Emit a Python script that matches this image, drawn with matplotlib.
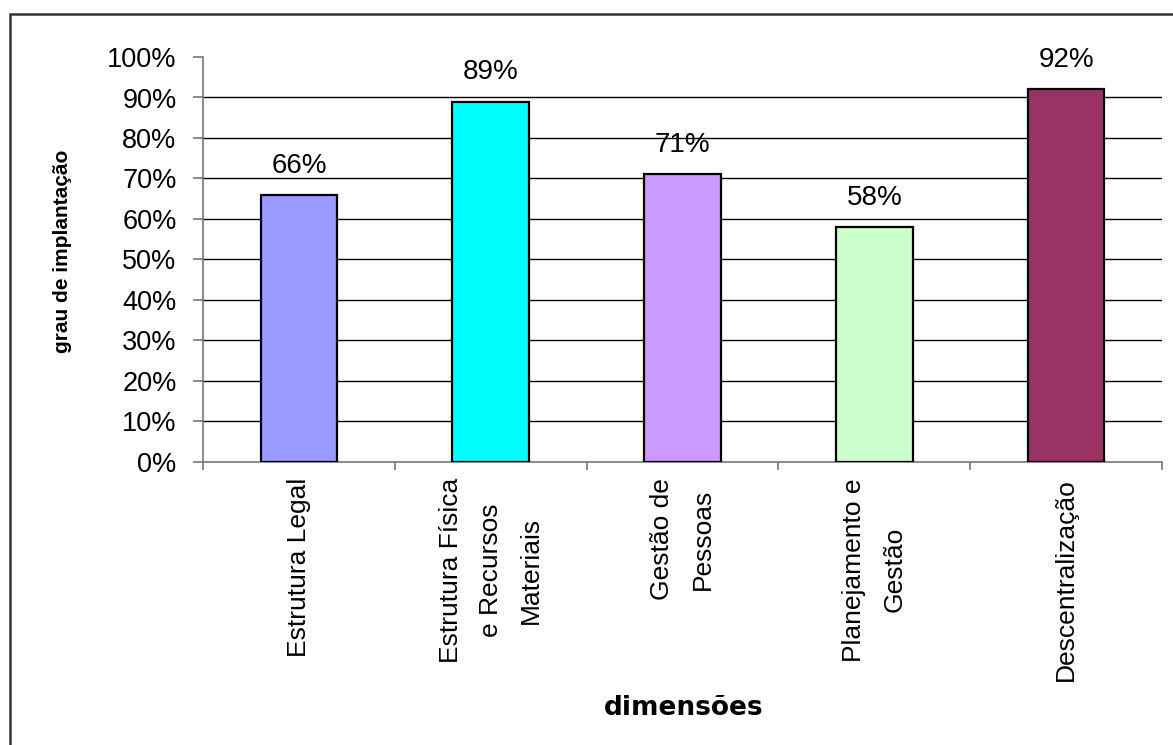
import matplotlib
matplotlib.use("Agg")
import matplotlib.pyplot as plt
from matplotlib.patches import Rectangle
from matplotlib import font_manager

categories = ["Estrutura Legal", "Estrutura Física\ne Recursos\nMateriais",
              "Gestão de\nPessoas", "Planejamento e\nGestão", "Descentralização"]
values = [66, 89, 71, 58, 92]
colors = ["#9999FF", "#00FFFF", "#CC99FF", "#CCFFCC", "#993366"]
yticks = [0, 10, 20, 30, 40, 50, 60, 70, 80, 90, 100]

names = {f.name for f in font_manager.fontManager.ttflist}
narrow = "Liberation Sans Narrow" if "Liberation Sans Narrow" in names else "Liberation Sans"

W, H = 1173, 745
fig = plt.figure(figsize=(W / 100, H / 100), dpi=100)
ax = fig.add_axes([203 / W, 1 - 462 / H, (1162 - 203) / W, (462 - 57) / H])

x = list(range(len(values)))
ax.bar(x, values, width=0.40, color=colors, edgecolor="black", linewidth=1.6, zorder=3)
ax.set_xlim(-0.5, len(values) - 0.5)
ax.set_ylim(0, 100)
ax.set_yticks(yticks)
ax.set_yticklabels([f"{v}%" for v in yticks], fontfamily="Liberation Sans", fontsize=19.5)
for v in yticks[1:-1]:
    ax.axhline(v, color="black", linewidth=1.0, zorder=1)

ax.set_xticks([i + 0.5 for i in range(-1, len(values))])
ax.set_xticklabels([])
ax.tick_params(axis="x", length=6, color="#777777", width=1.2)
ax.tick_params(axis="y", length=7, color="#777777", width=1.2, pad=12)
for s in ["top", "right"]:
    ax.spines[s].set_visible(False)
for s in ["left", "bottom"]:
    ax.spines[s].set_color("#777777")
    ax.spines[s].set_linewidth(1.2)

for i, v in enumerate(values):
    ax.annotate(f"{v}%", (i, v), xytext=(0, 21), textcoords="offset points",
                ha="center", va="center", fontsize=20, fontfamily="Liberation Sans")

for i, c in enumerate(categories):
    ax.text(i, -16 / (462 - 57), c, transform=ax.get_xaxis_transform(), rotation=90,
            ha="center", va="top", multialignment="center",
            fontsize=19, fontfamily=narrow, linespacing=1.85)

fig.text(62 / W, 1 - 251 / H, "grau de implantação", rotation=90, ha="center", va="center",
         fontsize=15, fontweight="bold", fontfamily=narrow)
fig.text(684 / W, 1 - 708 / H, "dimensões", ha="center", va="center",
         fontsize=19, fontweight="bold", fontfamily="DejaVu Sans")

fig.patches.append(Rectangle((10 / W, -0.1), 1.2, 1 - 14 / H + 0.1, transform=fig.transFigure,
                             fill=False, edgecolor="#333333", linewidth=1.8))

fig.savefig("out.png", dpi=100)
